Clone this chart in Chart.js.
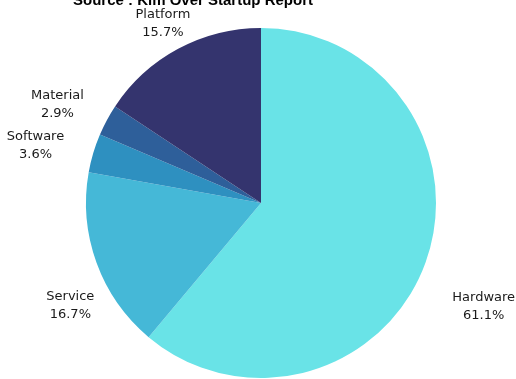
<!DOCTYPE html>
<html>
<head>
<meta charset="utf-8">
<script src="https://cdn.jsdelivr.net/npm/chart.js@4/dist/chart.umd.min.js"></script>
<style>
html,body{margin:0;padding:0;background:#fff;}
#wrap{position:relative;width:516px;height:379px;}
</style>
</head>
<body>
<div id="wrap"><canvas id="c"></canvas></div>
<script>
const titleText = "Source : Kim Over Startup Report";
const categories = ["Hardware", "Service", "Software", "Material", "Platform"];
const shares = [61.1, 16.7, 3.6, 2.9, 15.7];
const sliceColors = ["#69E3E7", "#45B8D7", "#2E90C0", "#2E5F9A", "#34346E"];

// label placement tweaks (text offsets, px) relative to a point just outside each slice
const labelNudge = {
  Hardware: [30, 34],
  Service: [2, 33],
  Software: [-29, 1],
  Material: [-23, -1],
  Platform: [-1, 1]
};

const labelPlugin = {
  id: 'outerLabels',
  afterDatasetsDraw(chart) {
    const ctx = chart.ctx;
    const meta = chart.getDatasetMeta(0);
    ctx.save();
    ctx.font = '13px "DejaVu Sans", Verdana, sans-serif';
    ctx.fillStyle = '#1a1a1a';
    ctx.textAlign = 'center';
    ctx.textBaseline = 'middle';
    meta.data.forEach((arc, i) => {
      const p = arc.getProps(['x', 'y', 'startAngle', 'endAngle', 'outerRadius'], true);
      const mid = (p.startAngle + p.endAngle) / 2;
      const R = p.outerRadius + 30;
      const n = labelNudge[categories[i]] || [0, 0];
      const x = p.x + Math.cos(mid) * R + n[0];
      const y = p.y + Math.sin(mid) * R + n[1];
      ctx.fillText(categories[i], x, y - 9);
      ctx.fillText(shares[i].toFixed(1) + '%', x, y + 9);
    });
    ctx.restore();
  }
};

const titlePlugin = {
  id: 'cutTitle',
  afterDraw(chart) {
    const ctx = chart.ctx;
    ctx.save();
    ctx.font = 'bold 15px "Liberation Sans", Arial, sans-serif';
    ctx.fillStyle = '#000';
    ctx.textAlign = 'center';
    ctx.textBaseline = 'alphabetic';
    ctx.fillText(titleText, 193, 5);
    ctx.restore();
  }
};

new Chart(document.getElementById('c'), {
  type: 'pie',
  data: {
    labels: categories,
    datasets: [{
      data: shares,
      backgroundColor: sliceColors,
      borderWidth: 0
    }]
  },
  options: {
    responsive: true,
    maintainAspectRatio: false,
    animation: false,
    layout: { padding: { top: 28, bottom: 1, left: 86, right: 80 } },
    plugins: {
      legend: { display: false },
      tooltip: { enabled: false },
      title: { display: false }
    }
  },
  plugins: [labelPlugin, titlePlugin]
});
</script>
</body>
</html>
